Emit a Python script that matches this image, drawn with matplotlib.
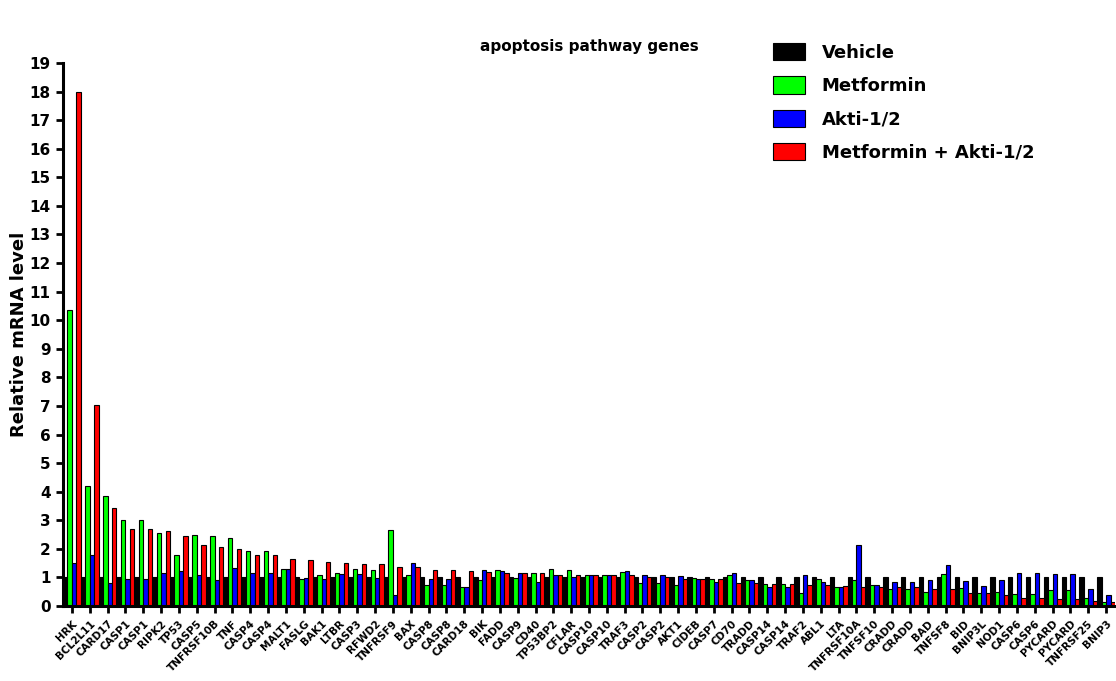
import matplotlib
matplotlib.use("Agg")
import matplotlib.pyplot as plt
import numpy as np
from matplotlib.patches import Patch

genes = ["HRK", "BCL2L11", "CARD17", "CASP1", "CASP1", "RIPK2", "TP53", "CASP5", "TNFRSF10B", "TNF",
         "CASP4", "CASP4", "MALT1", "FASLG", "BAK1", "LTBR", "CASP3", "RFWD2", "TNFRSF9", "BAX",
         "CASP8", "CASP8", "CARD18", "BIK", "FADD", "CASP9", "CD40", "TP53BP2", "CFLAR", "CASP10",
         "CASP10", "TRAF3", "CASP2", "CASP2", "AKT1", "CIDEB", "CASP7", "CD70", "TRADD", "CASP14",
         "CASP14", "TRAF2", "ABL1", "LTA", "TNFRSF10A", "TNFSF10", "CRADD", "CRADD", "BAD", "TNFSF8",
         "BID", "BNIP3L", "NOD1", "CASP6", "CASP6", "PYCARD", "PYCARD", "TNFRSF25", "BNIP3"]

vehicle = [1.0] * 59

metformin = [10.35, 4.20, 3.84, 3.00, 3.00, 2.55, 1.79, 2.47, 2.44, 2.37,
             1.91, 1.91, 1.30, 0.93, 1.07, 1.16, 1.30, 1.27, 2.66, 1.08,
             0.74, 0.74, 0.67, 0.90, 1.26, 0.97, 1.15, 1.29, 1.26, 1.08,
             1.08, 1.19, 0.81, 0.81, 0.74, 0.97, 0.94, 1.09, 0.90, 0.76,
             0.76, 0.44, 0.95, 0.65, 0.91, 0.73, 0.58, 0.58, 0.49, 1.13,
             0.62, 0.45, 0.48, 0.41, 0.41, 0.56, 0.56, 0.28, 0.13]

akti = [1.52, 1.80, 0.81, 0.93, 0.93, 1.15, 1.24, 1.07, 0.90, 1.33,
        1.14, 1.14, 1.28, 0.97, 0.93, 1.13, 1.13, 0.99, 0.38, 1.50,
        0.95, 0.95, 0.67, 1.27, 1.22, 1.14, 0.83, 1.07, 1.03, 1.07,
        1.07, 1.23, 1.09, 1.09, 1.06, 0.93, 0.85, 1.15, 0.90, 0.65,
        0.65, 1.09, 0.85, 0.65, 2.13, 0.72, 0.85, 0.85, 0.90, 1.42,
        0.88, 0.70, 0.90, 1.17, 1.17, 1.12, 1.12, 0.60, 0.38]

combo = [18.0, 7.05, 3.42, 2.71, 2.71, 2.62, 2.44, 2.13, 2.07, 2.01,
         1.77, 1.77, 1.64, 1.62, 1.55, 1.52, 1.48, 1.48, 1.37, 1.36,
         1.26, 1.26, 1.22, 1.20, 1.16, 1.14, 1.14, 1.10, 1.10, 1.10,
         1.10, 1.10, 1.01, 1.01, 0.94, 0.93, 0.94, 0.80, 0.80, 0.78,
         0.78, 0.74, 0.73, 0.69, 0.67, 0.66, 0.65, 0.65, 0.58, 0.58,
         0.47, 0.47, 0.37, 0.29, 0.29, 0.26, 0.26, 0.16, 0.13]

series_names = ["Vehicle", "Metformin", "Akti-1/2", "Metformin + Akti-1/2"]
series_colors = ["#000000", "#00FF00", "#0000FF", "#FF0000"]

plt.rcParams['font.family'] = ['DejaVu Sans']
plt.rcParams['font.weight'] = 'bold'

W, H = 1116, 681
fig = plt.figure(figsize=(W / 100, H / 100), dpi=100)
ax = fig.add_axes([63 / W, (H - 606) / H, (1115 - 63) / W, (606 - 63) / H])

x = np.arange(len(genes))
bw = 0.25
for k, (vals, c) in enumerate(zip([vehicle, metformin, akti, combo], series_colors)):
    ax.bar(x + (k - 1.5) * bw, vals, width=bw, color=c, edgecolor="black", linewidth=0.8, zorder=2)

ax.set_xlim(-0.5, len(genes) - 0.5)
ax.set_ylim(0, 19)
ax.set_yticks(range(0, 20))
ax.set_yticklabels([str(v) for v in range(0, 20)], fontsize=11, fontweight='bold')
ax.set_xticks(x)
ax.set_xticklabels(genes, rotation=45, ha='right', va='top', rotation_mode='anchor',
                   fontsize=7.5, fontweight='bold')
for s in ['top', 'right']:
    ax.spines[s].set_visible(False)
for s in ['left', 'bottom']:
    ax.spines[s].set_linewidth(2.2)
ax.tick_params(axis='both', direction='out', length=5, width=2, color='black')
ax.tick_params(axis='y', pad=4)
ax.tick_params(axis='x', pad=4)

ax.set_ylabel("Relative mRNA level", fontsize=13, fontweight='bold')
ax.yaxis.set_label_coords(-0.0335, 0.5)

fig.text(589 / W, 1 - 46 / H, "apoptosis pathway genes", ha='center', va='center',
         fontsize=11, fontweight='bold')

handles = [Patch(facecolor=c, edgecolor='black', linewidth=0.8) for c in series_colors]
fig.legend(handles, series_names, loc='upper left', bbox_to_anchor=(773 / W, 1 - 43 / H),
           frameon=False, handlelength=1.75, handleheight=1.1,
           labelspacing=0.8, handletextpad=0.95, borderpad=0, borderaxespad=0,
           prop={'weight': 'bold', 'size': 13})

fig.savefig("out.png", dpi=100)
